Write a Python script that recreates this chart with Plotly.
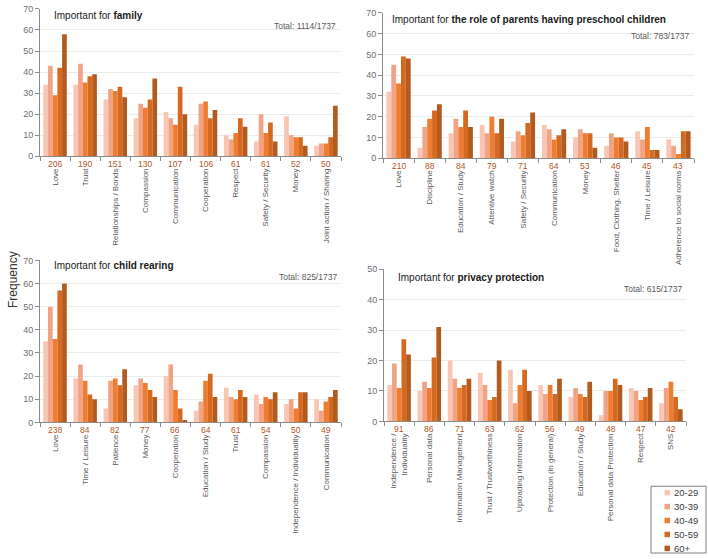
import plotly.graph_objects as go

W, H = 708, 559

AGE_GROUPS = ["20-29", "30-39", "40-49", "50-59", "60+"]
AGE_COLORS = ["#F8C6B2", "#F1A485", "#EE7D31", "#D5691F", "#B35A1E"]

FAMILY_CATS = ["Love", "Trust", "Relationships / Bonds", "Compassion", "Communication",
               "Cooperation", "Respect", "Safety / Security", "Money", "Joint action / Sharing"]
FAMILY_COUNTS = [206, 190, 151, 130, 107, 106, 61, 61, 52, 50]
FAMILY_VALUES = [[34, 43, 29, 42, 58], [34, 44, 35, 38, 39], [27, 32, 31, 33, 28],
                 [18, 25, 23, 27, 37], [21, 18, 15, 33, 20], [15, 25, 26, 18, 22],
                 [10, 8, 11, 18, 14], [7, 20, 11, 16, 7], [19, 10, 9, 9, 5], [5, 6, 6, 9, 24]]

PARENTS_CATS = ["Love", "Discipline", "Education / Study", "Attentive watch", "Safety / Security",
                "Communication", "Money", "Food, Clothing, Shelter", "Time / Leisure",
                "Adherence to social norms"]
PARENTS_COUNTS = [210, 88, 84, 79, 71, 64, 53, 46, 45, 43]
PARENTS_VALUES = [[32, 45, 36, 49, 48], [5, 15, 19, 23, 26], [12, 19, 15, 23, 15],
                  [16, 12, 20, 12, 19], [8, 13, 11, 17, 22], [16, 14, 9, 11, 14],
                  [10, 14, 12, 12, 5], [6, 12, 10, 10, 8], [13, 9, 15, 4, 4], [9, 6, 2, 13, 13]]

CHILD_CATS = ["Love", "Time / Leisure", "Patience", "Money", "Cooperation", "Education / Study",
              "Trust", "Compassion", "Independence / Individuality", "Communication"]
CHILD_COUNTS = [238, 84, 82, 77, 66, 64, 61, 54, 50, 49]
CHILD_VALUES = [[35, 50, 36, 57, 60], [19, 25, 18, 12, 10], [6, 18, 19, 16, 23],
                [16, 19, 17, 14, 11], [20, 25, 14, 6, 1], [5, 9, 18, 21, 11],
                [15, 11, 10, 14, 11], [12, 8, 11, 10, 13], [8, 10, 6, 13, 13], [10, 5, 9, 11, 14]]

PRIVACY_CATS = ["Independence /<br>Individuality", "Personal data", "Information Management",
                "Trust / Trustworthiness", "Uploading Information", "Protection (in general)",
                "Education / Study", "Personal data Protection", "Respect", "SNS"]
PRIVACY_COUNTS = [91, 86, 71, 63, 62, 56, 49, 48, 47, 42]
PRIVACY_VALUES = [[12, 19, 11, 27, 22], [10, 13, 11, 21, 31], [20, 14, 11, 12, 14],
                  [16, 12, 7, 8, 20], [17, 6, 12, 17, 10], [12, 9, 12, 9, 14],
                  [8, 11, 9, 8, 13], [2, 10, 10, 14, 12], [11, 10, 7, 8, 11], [6, 11, 13, 8, 4]]

PANEL_TITLES = ["family", "the role of parents having preschool children",
                "child rearing", "privacy protection"]
PANEL_TOTALS = ["Total: 1114/1737", "Total: 783/1737", "Total: 825/1737", "Total: 615/1737"]
PANEL_YMAX = [70, 70, 70, 50]


def px_x(p):
    return p / W


def px_y(p):
    return 1 - p / H


# layout geometry (pixels)
GEOM = [
    dict(x0=40, x1=341, yt=4, y0=154, tx=52, ty=11, sx=338, sy=21),
    dict(x0=383, x1=694, yt=8, y0=156, tx=390, ty=15, sx=691, sy=32),
    dict(x0=40, x1=341, yt=260, y0=425, tx=52, ty=265, sx=339, sy=277),
    dict(x0=384, x1=686, yt=269, y0=424, tx=396, ty=277, sx=684, sy=289),
]

PANELS = [
    (FAMILY_CATS, FAMILY_COUNTS, FAMILY_VALUES),
    (PARENTS_CATS, PARENTS_COUNTS, PARENTS_VALUES),
    (CHILD_CATS, CHILD_COUNTS, CHILD_VALUES),
    (PRIVACY_CATS, PRIVACY_COUNTS, PRIVACY_VALUES),
]

FONT = "Arial, Liberation Sans, sans-serif"
GRID = "#EBEBEB"
AXIS = "#8C8C8C"
COUNT_COLOR = "#B0562A"

fig = go.Figure()
annotations = []
shapes = []
layout_axes = {}

for i, (cats, counts, values) in enumerate(PANELS):
    n = i + 1
    xa = "x" if n == 1 else f"x{n}"
    ya = "y" if n == 1 else f"y{n}"
    for k, age in enumerate(AGE_GROUPS):
        fig.add_trace(go.Bar(
            x=cats, y=[v[k] for v in values], name=age,
            marker=dict(color=AGE_COLORS[k], line=dict(width=0)),
            xaxis=xa, yaxis=ya, legendgroup=age, showlegend=False,
            hovertemplate="%{x}<br>" + age + ": %{y}<extra></extra>",
        ))
    g = GEOM[i]
    layout_axes["xaxis" if n == 1 else f"xaxis{n}"] = dict(
        domain=[px_x(g["x0"]), px_x(g["x1"])], anchor=ya,
        type="category", showline=True, linecolor=AXIS, linewidth=1,
        ticks="outside", tickson="boundaries", ticklen=4, tickcolor=AXIS,
        tickangle=-90, tickfont=dict(size=8, color="#595959", family=FONT),
        ticklabelstandoff=8, showgrid=False, fixedrange=True,
    )
    layout_axes["yaxis" if n == 1 else f"yaxis{n}"] = dict(
        domain=[px_y(g["y0"]), px_y(g["yt"])], anchor=xa,
        range=[0, PANEL_YMAX[i]], dtick=10, showline=True, linecolor=AXIS, linewidth=1,
        ticks="outside", ticklen=4, tickcolor=AXIS,
        tickfont=dict(size=9, color="#707070", family=FONT),
        showgrid=True, gridcolor=GRID, gridwidth=1, zeroline=False, fixedrange=True,
    )
    for c, cnt in zip(cats, counts):
        annotations.append(dict(
            x=c, y=0, xref=xa, yref=ya, text=str(cnt), showarrow=False,
            yanchor="middle", xanchor="center", yshift=-8,
            font=dict(size=8.5, color=COUNT_COLOR, family=FONT),
        ))
    annotations.append(dict(
        x=px_x(g["tx"]), y=px_y(g["ty"]), xref="paper", yref="paper",
        xanchor="left", yanchor="middle", showarrow=False,
        text=f"Important for <b>{PANEL_TITLES[i]}</b>",
        font=dict(size=10, color="#1a1a1a", family=FONT),
    ))
    annotations.append(dict(
        x=px_x(g["sx"]), y=px_y(g["sy"]), xref="paper", yref="paper",
        xanchor="right", yanchor="middle", showarrow=False,
        text=PANEL_TOTALS[i],
        font=dict(size=8.5, color="#595959", family=FONT),
    ))

annotations.append(dict(
    x=px_x(13), y=px_y(280), xref="paper", yref="paper", showarrow=False,
    text="Frequency", textangle=-90, xanchor="center", yanchor="middle",
    font=dict(size=12, color="#333333", family=FONT),
))

# legend box (drawn as shapes + text for a compact, boxed legend)
LEG_X0, LEG_X1, LEG_Y0, LEG_Y1 = 651, 706, 490, 558
shapes.append(dict(type="rect", xref="paper", yref="paper",
                   x0=px_x(LEG_X0), x1=px_x(LEG_X1), y0=px_y(LEG_Y1), y1=px_y(LEG_Y0),
                   line=dict(color="#808080", width=1), fillcolor="white", layer="above"))
for k, age in enumerate(AGE_GROUPS):
    cy = 496.5 + k * 14.2
    shapes.append(dict(type="rect", xref="paper", yref="paper",
                       x0=px_x(664.5), x1=px_x(670), y0=px_y(cy + 2.8), y1=px_y(cy - 2.8),
                       line=dict(width=0), fillcolor=AGE_COLORS[k], layer="above"))
    annotations.append(dict(
        x=px_x(672), y=px_y(cy), xref="paper", yref="paper", showarrow=False,
        text=age, xanchor="left", yanchor="middle",
        font=dict(size=9.5, color="#404040", family=FONT),
    ))

fig.update_layout(
    width=W, height=H, margin=dict(l=0, r=0, t=0, b=0),
    paper_bgcolor="white", plot_bgcolor="white",
    barmode="group", bargap=0.22, bargroupgap=0,
    font=dict(family=FONT),
    showlegend=False,
    annotations=annotations,
    shapes=shapes,
    **layout_axes,
)

fig.write_html("out.html")
